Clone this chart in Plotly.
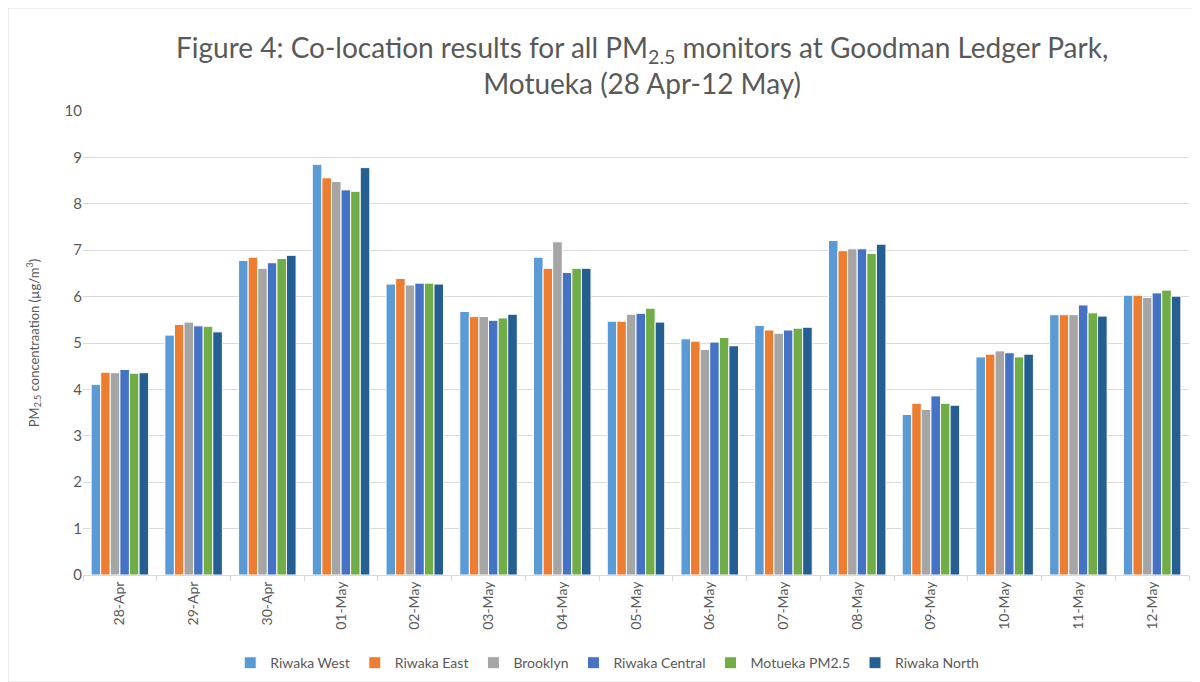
import plotly.graph_objects as go

dates = ["28-Apr", "29-Apr", "30-Apr", "01-May", "02-May", "03-May", "04-May", "05-May",
         "06-May", "07-May", "08-May", "09-May", "10-May", "11-May", "12-May"]

riwaka_west    = [4.11, 5.17, 6.78, 8.85, 6.27, 5.68, 6.85, 5.47, 5.09, 5.38, 7.21, 3.46, 4.70, 5.61, 6.03]
riwaka_east    = [4.37, 5.40, 6.85, 8.56, 6.39, 5.57, 6.61, 5.47, 5.04, 5.28, 6.99, 3.70, 4.76, 5.61, 6.03]
brooklyn       = [4.36, 5.45, 6.61, 8.48, 6.25, 5.57, 7.18, 5.62, 4.86, 5.21, 7.03, 3.57, 4.83, 5.61, 5.98]
riwaka_central = [4.43, 5.37, 6.73, 8.30, 6.29, 5.49, 6.52, 5.64, 5.02, 5.28, 7.03, 3.86, 4.79, 5.82, 6.08]
motueka_pm25   = [4.35, 5.36, 6.82, 8.27, 6.29, 5.54, 6.61, 5.75, 5.12, 5.32, 6.93, 3.70, 4.70, 5.65, 6.14]
riwaka_north   = [4.36, 5.24, 6.89, 8.78, 6.27, 5.62, 6.61, 5.45, 4.94, 5.34, 7.13, 3.66, 4.76, 5.58, 6.01]

series = [
    ("Riwaka West", riwaka_west, "#5B9BD5"),
    ("Riwaka East", riwaka_east, "#ED7D31"),
    ("Brooklyn", brooklyn, "#A5A5A5"),
    ("Riwaka Central", riwaka_central, "#4472C4"),
    ("Motueka PM2.5", motueka_pm25, "#70AD47"),
    ("Riwaka North", riwaka_north, "#255E91"),
]

FONT = "Lato"
GREY = "#595959"

fig = go.Figure()
for name, vals, col in series:
    fig.add_trace(go.Bar(
        x=dates, y=vals, name=name,
        marker=dict(color=col, line=dict(color="white", width=1)),
    ))

fig.update_layout(
    width=1192, height=674,
    margin=dict(l=75, r=11, t=103, b=107, autoexpand=False),
    paper_bgcolor="white", plot_bgcolor="white",
    barmode="group", bargap=0.22, bargroupgap=0.0,
    font=dict(family=FONT, color=GREY, size=13),
    title=dict(
        text="Figure 4: Co-location results for all PM<sub>2.5</sub> monitors at Goodman Ledger Park,<br>Motueka (28 Apr-12 May)",
        x=0.532, xanchor="center", y=0.926, yanchor="top",
        font=dict(family=FONT, size=28, color=GREY),
    ),
    legend=dict(
        orientation="h", x=0.474, xanchor="center",
        yref="container", y=0.028, yanchor="middle",
        font=dict(family=FONT, size=14, color=GREY),
        itemwidth=30, tracegroupgap=0,
    ),
    xaxis=dict(
        type="category", tickangle=-90, showgrid=False, automargin=False,
        showline=True, linecolor="#D9D9D9", linewidth=1,
        ticks="outside", tickcolor="#D9D9D9", ticklen=5, tickson="boundaries",
        tickfont=dict(family=FONT, size=14, color=GREY),
    ),
    yaxis=dict(
        range=[0, 10], dtick=1, showgrid=True, gridcolor="#D9D9D9", gridwidth=1,
        zeroline=False, showline=False, ticks="", automargin=False,
        tickfont=dict(family=FONT, size=15, color=GREY),
        title=dict(text="PM<sub>2.5</sub> concentraation (µg/m<sup>3</sup>)",
                   font=dict(family=FONT, size=13, color=GREY), standoff=22),
    ),
    shapes=[dict(type="rect", xref="paper", yref="paper",
                 x0=-0.0678, x1=1.005, y0=-0.2306, y1=1.222,
                 line=dict(color="#D9D9D9", width=1), fillcolor="rgba(0,0,0,0)",
                 layer="below")],
)

fig.write_html("out.html")
